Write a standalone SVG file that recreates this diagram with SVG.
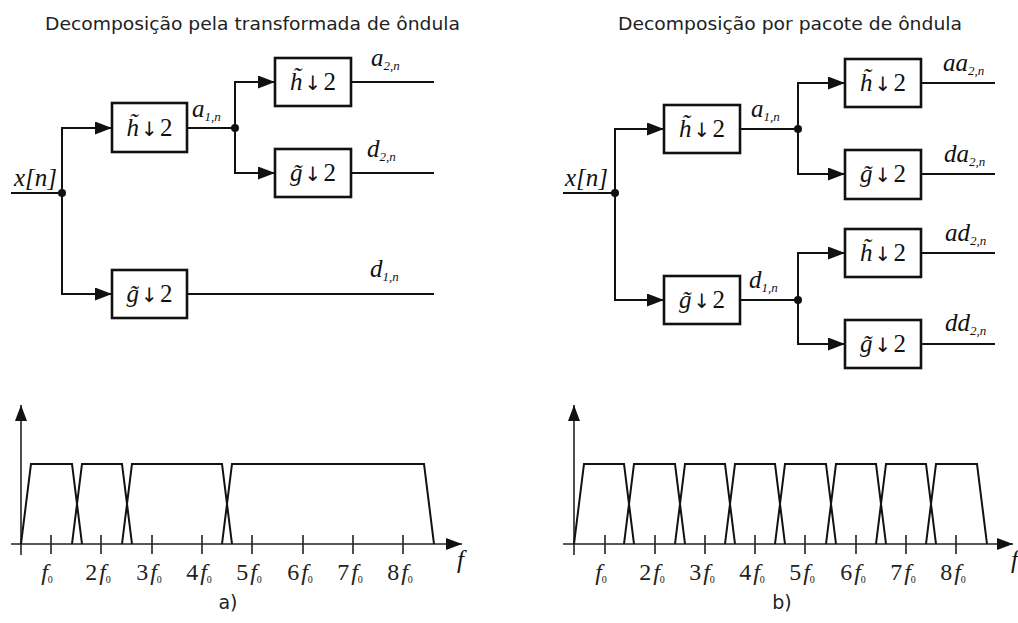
<svg xmlns="http://www.w3.org/2000/svg" width="1018" height="623" viewBox="0 0 1018 623">
<style>
.box{fill:#fff;stroke:#111;stroke-width:2.6}
.wire{fill:none;stroke:#111;stroke-width:2}
.arr{fill:none;stroke:#111;stroke-width:2;marker-end:url(#ah)}
.ax{fill:none;stroke:#222;stroke-width:1.6;marker-end:url(#axh)}
.tr{fill:none;stroke:#111;stroke-width:2;stroke-linejoin:miter}
.tick{stroke:#222;stroke-width:1.6}
.dot{fill:#111}
.title{font-family:"DejaVu Sans",sans-serif;font-size:18.5px;fill:#222}
.cap{font-family:"DejaVu Sans",sans-serif;font-size:19px;fill:#222;text-anchor:middle}
.m{font-family:"Liberation Serif",serif;font-style:italic;font-size:25px;fill:#111}
.s{font-size:13px}
.bl{font-family:"Liberation Serif",serif;font-size:25px;fill:#111;text-anchor:middle}
.i{font-style:italic}
.ar{font-family:"DejaVu Sans",sans-serif;font-size:20px;fill:#111}
.tl{font-family:"Liberation Serif",serif;font-size:24px;fill:#222;text-anchor:middle}
.z{font-size:10px}
</style>
<defs>
<marker id="ah" markerUnits="userSpaceOnUse" markerWidth="17" markerHeight="13" refX="17" refY="6.5" orient="auto"><path d="M0,0 L17,6.5 L0,13 z" fill="#111"/></marker>
<marker id="axh" markerUnits="userSpaceOnUse" markerWidth="16" markerHeight="12" refX="16" refY="6" orient="auto"><path d="M0,0 L16,6 L0,12 z" fill="#111"/></marker>
</defs>
<rect width="1018" height="623" fill="#fff"/>

<text class="title" x="45" y="30" textLength="415" lengthAdjust="spacingAndGlyphs">Decomposição pela transformada de ôndula</text>
<text class="title" x="618" y="30" textLength="344" lengthAdjust="spacingAndGlyphs">Decomposição por pacote de ôndula</text>

<g id="connectors">
<path class="wire" d="M11,193 H62"/>
<path class="arr" d="M62,193 V128 H112"/>
<path class="arr" d="M62,193 V294 H112"/>
<path class="wire" d="M187,128 H235"/>
<path class="arr" d="M235,128 V82 H275"/>
<path class="arr" d="M235,128 V173 H275"/>
<path class="wire" d="M351,82 H434 M351,173 H434 M187,294 H434"/>
<path class="wire" d="M563,193 H615"/>
<path class="arr" d="M615,193 V129 H664"/>
<path class="arr" d="M615,193 V300 H664"/>
<path class="wire" d="M740,129 H798 M740,300 H798"/>
<path class="arr" d="M798,129 V83 H845"/>
<path class="arr" d="M798,129 V174 H845"/>
<path class="arr" d="M798,300 V253 H845"/>
<path class="arr" d="M798,300 V344 H845"/>
<path class="wire" d="M921,83 H995 M921,174 H995 M921,253 H995 M921,344 H995"/>
<circle class="dot" cx="62" cy="193" r="4"/>
<circle class="dot" cx="235" cy="128" r="4"/>
<circle class="dot" cx="615" cy="193" r="4"/>
<circle class="dot" cx="798" cy="129" r="4"/>
<circle class="dot" cx="798" cy="300" r="4"/>
</g>

<g id="labels">
<text class="m" x="14" y="186" font-size="22">x[n]</text>
<text class="m" x="192" y="117">a<tspan class="s" dy="4">1,n</tspan></text>
<text class="m" x="371" y="66">a<tspan class="s" dy="4">2,n</tspan></text>
<text class="m" x="367" y="157">d<tspan class="s" dy="4">2,n</tspan></text>
<text class="m" x="370" y="277">d<tspan class="s" dy="4">1,n</tspan></text>
<text class="m" x="565" y="186" font-size="22">x[n]</text>
<text class="m" x="751" y="117">a<tspan class="s" dy="4">1,n</tspan></text>
<text class="m" x="749" y="288">d<tspan class="s" dy="4">1,n</tspan></text>
<text class="m" x="943" y="71">aa<tspan class="s" dy="4">2,n</tspan></text>
<text class="m" x="944" y="162">da<tspan class="s" dy="4">2,n</tspan></text>
<text class="m" x="945" y="241">ad<tspan class="s" dy="4">2,n</tspan></text>
<text class="m" x="945" y="331">dd<tspan class="s" dy="4">2,n</tspan></text>
</g>

<g id="L1"><rect class="box" x="112" y="103" width="75" height="49"/><text class="bl" x="149.5" y="136"><tspan class="i">h̃</tspan><tspan class="ar" dx="2">↓</tspan><tspan dx="2">2</tspan></text></g>
<g id="L2"><rect class="box" x="275" y="58" width="76" height="48"/><text class="bl" x="313" y="90"><tspan class="i">h̃</tspan><tspan class="ar" dx="2">↓</tspan><tspan dx="2">2</tspan></text></g>
<g id="L3"><rect class="box" x="275" y="149" width="76" height="48"/><text class="bl" x="313" y="181"><tspan class="i">g̃</tspan><tspan class="ar" dx="2">↓</tspan><tspan dx="2">2</tspan></text></g>
<g id="L4"><rect class="box" x="112" y="270" width="75" height="48"/><text class="bl" x="149.5" y="302"><tspan class="i">g̃</tspan><tspan class="ar" dx="2">↓</tspan><tspan dx="2">2</tspan></text></g>

<g id="R1"><rect class="box" x="664" y="105" width="76" height="48"/><text class="bl" x="702" y="137"><tspan class="i">h̃</tspan><tspan class="ar" dx="2">↓</tspan><tspan dx="2">2</tspan></text></g>
<g id="R2"><rect class="box" x="664" y="276" width="76" height="48"/><text class="bl" x="702" y="308"><tspan class="i">g̃</tspan><tspan class="ar" dx="2">↓</tspan><tspan dx="2">2</tspan></text></g>
<g id="R3"><rect class="box" x="845" y="59" width="76" height="48"/><text class="bl" x="883" y="91"><tspan class="i">h̃</tspan><tspan class="ar" dx="2">↓</tspan><tspan dx="2">2</tspan></text></g>
<g id="R4"><rect class="box" x="845" y="150" width="76" height="49"/><text class="bl" x="883" y="182"><tspan class="i">g̃</tspan><tspan class="ar" dx="2">↓</tspan><tspan dx="2">2</tspan></text></g>
<g id="R5"><rect class="box" x="845" y="229" width="76" height="48"/><text class="bl" x="883" y="261"><tspan class="i">h̃</tspan><tspan class="ar" dx="2">↓</tspan><tspan dx="2">2</tspan></text></g>
<g id="R6"><rect class="box" x="845" y="320" width="76" height="48"/><text class="bl" x="883" y="352"><tspan class="i">g̃</tspan><tspan class="ar" dx="2">↓</tspan><tspan dx="2">2</tspan></text></g>

<g id="graphA">
<path class="ax" d="M21,555 V405"/>
<path class="ax" d="M11,544 H462"/>
<path class="tick" d="M51,535 V554 M101,535 V554 M152,535 V554 M202,535 V554 M252,535 V554 M303,535 V554 M353,535 V554 M403,535 V554"/>
<path class="tr" d="M21,544 L31,464 L72,464 L82,544"/>
<path class="tr" d="M72,544 L82,464 L122,464 L132,544"/>
<path class="tr" d="M122,544 L132,464 L222,464 L232,544"/>
<path class="tr" d="M222,544 L232,464 L424,464 L434,544"/>
<text class="tl" x="47" y="580"><tspan class="i">f</tspan><tspan class="z" dy="3">0</tspan></text>
<text class="tl" x="98" y="580">2<tspan class="i" dx="2">f</tspan><tspan class="z" dy="3">0</tspan></text>
<text class="tl" x="149" y="580">3<tspan class="i" dx="2">f</tspan><tspan class="z" dy="3">0</tspan></text>
<text class="tl" x="199" y="580">4<tspan class="i" dx="2">f</tspan><tspan class="z" dy="3">0</tspan></text>
<text class="tl" x="249" y="580">5<tspan class="i" dx="2">f</tspan><tspan class="z" dy="3">0</tspan></text>
<text class="tl" x="300" y="580">6<tspan class="i" dx="2">f</tspan><tspan class="z" dy="3">0</tspan></text>
<text class="tl" x="350" y="580">7<tspan class="i" dx="2">f</tspan><tspan class="z" dy="3">0</tspan></text>
<text class="tl" x="400" y="580">8<tspan class="i" dx="2">f</tspan><tspan class="z" dy="3">0</tspan></text>
<text class="m" x="457" y="568" font-size="28">f</text>
<text class="cap" x="228" y="609">a)</text>
</g>

<g id="graphB">
<path class="ax" d="M574,555 V405"/>
<path class="ax" d="M563,544 H1013"/>
<path class="tick" d="M605,535 V554 M655,535 V554 M705,535 V554 M755,535 V554 M805,535 V554 M856,535 V554 M906,535 V554 M956,535 V554"/>
<path class="tr" d="M574,544 L584,464 L624,464 L634,544"/>
<path class="tr" d="M624,544 L634,464 L675,464 L685,544"/>
<path class="tr" d="M675,544 L685,464 L725,464 L735,544"/>
<path class="tr" d="M725,544 L735,464 L775,464 L785,544"/>
<path class="tr" d="M775,544 L785,464 L826,464 L836,544"/>
<path class="tr" d="M826,544 L836,464 L876,464 L886,544"/>
<path class="tr" d="M876,544 L886,464 L926,464 L936,544"/>
<path class="tr" d="M926,544 L936,464 L977,464 L987,544"/>
<text class="tl" x="601" y="580"><tspan class="i">f</tspan><tspan class="z" dy="3">0</tspan></text>
<text class="tl" x="652" y="580">2<tspan class="i" dx="2">f</tspan><tspan class="z" dy="3">0</tspan></text>
<text class="tl" x="702" y="580">3<tspan class="i" dx="2">f</tspan><tspan class="z" dy="3">0</tspan></text>
<text class="tl" x="752" y="580">4<tspan class="i" dx="2">f</tspan><tspan class="z" dy="3">0</tspan></text>
<text class="tl" x="802" y="580">5<tspan class="i" dx="2">f</tspan><tspan class="z" dy="3">0</tspan></text>
<text class="tl" x="853" y="580">6<tspan class="i" dx="2">f</tspan><tspan class="z" dy="3">0</tspan></text>
<text class="tl" x="903" y="580">7<tspan class="i" dx="2">f</tspan><tspan class="z" dy="3">0</tspan></text>
<text class="tl" x="953" y="580">8<tspan class="i" dx="2">f</tspan><tspan class="z" dy="3">0</tspan></text>
<text class="m" x="1011" y="568" font-size="28">f</text>
<text class="cap" x="782" y="609">b)</text>
</g>
</svg>
